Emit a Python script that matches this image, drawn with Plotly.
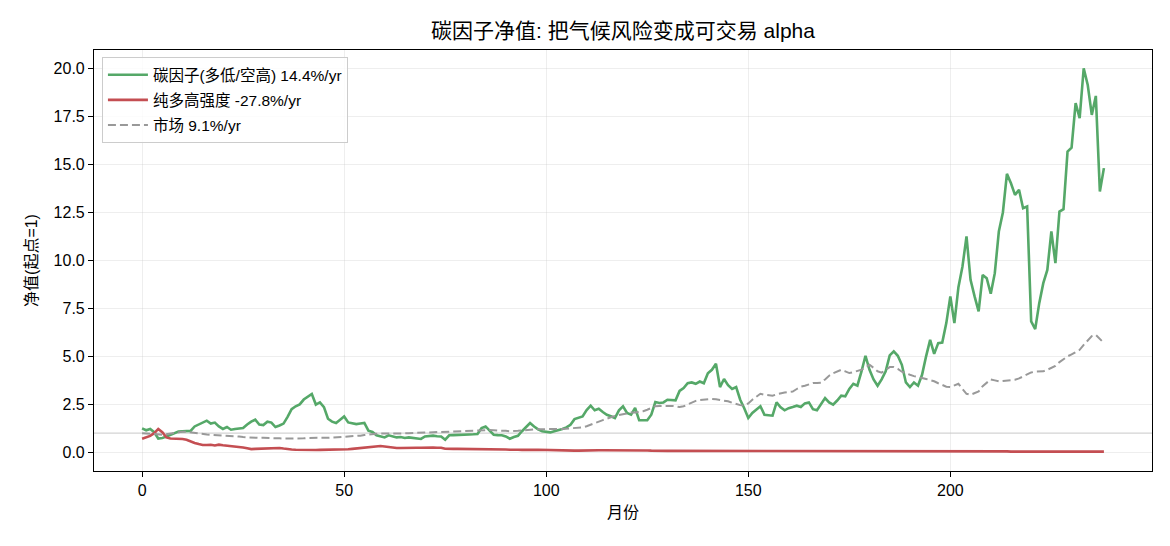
import plotly.graph_objects as go

months = list(range(239))

carbon_factor = [
    1.25, 1.15, 1.22, 1.05, 0.72, 0.75, 0.82, 0.92, 1.0, 1.08,
    1.1, 1.1, 1.12, 1.35, 1.45, 1.55, 1.65, 1.5, 1.55, 1.35,
    1.22, 1.32, 1.18, 1.22, 1.25, 1.27, 1.45, 1.6, 1.7, 1.45,
    1.42, 1.6, 1.55, 1.32, 1.4, 1.5, 1.85, 2.25, 2.4, 2.5,
    2.75, 2.9, 3.04, 2.49, 2.6, 2.36, 1.75, 1.6, 1.53, 1.7,
    1.87, 1.56, 1.5, 1.47, 1.5, 1.53, 1.13, 1.06, 0.89, 0.83,
    0.78, 0.89, 0.82, 0.78, 0.8, 0.75, 0.78, 0.76, 0.75, 0.7,
    0.83, 0.85, 0.87, 0.84, 0.83, 0.66, 0.89, 0.9, 0.9, 0.92,
    0.92, 0.93, 0.94, 0.96, 1.27, 1.35, 1.13, 0.92, 0.9, 0.89,
    0.83, 0.71, 0.8, 0.86, 1.1, 1.3, 1.53, 1.35, 1.2, 1.1,
    1.08, 1.04, 1.1, 1.15, 1.22, 1.3, 1.44, 1.73, 1.8, 1.87,
    2.2, 2.43, 2.19, 2.27, 2.1, 1.96, 1.88, 1.79, 2.19, 2.4,
    2.05, 1.96, 2.31, 1.67, 1.67, 1.67, 1.96, 2.62, 2.57, 2.6,
    2.74, 2.72, 2.71, 3.2, 3.35, 3.6, 3.64, 3.57, 3.69, 3.6,
    4.12, 4.3, 4.61, 3.4, 3.82, 3.5, 3.3, 3.4, 2.74, 2.3,
    1.79, 2.05, 2.25, 2.4, 1.96, 1.93, 1.91, 2.6, 2.35, 2.19,
    2.3, 2.36, 2.43, 2.36, 2.55, 2.6, 2.25, 2.19, 2.5, 2.83,
    2.6, 2.48, 2.7, 2.95, 2.92, 3.3, 3.57, 3.47, 4.2, 5.03,
    4.3, 3.8, 3.47, 3.8, 4.22, 5.05, 5.26, 5.03, 4.56, 3.64,
    3.4, 3.64, 3.47, 4.04, 5.0, 5.86, 5.13, 5.69, 5.72, 6.73,
    8.12, 6.73, 8.6, 9.68, 11.24, 8.98, 8.12, 7.34, 9.24, 9.07,
    8.26, 9.33, 11.5, 12.49, 14.5, 14.01, 13.41, 13.67, 12.71, 12.8,
    6.82, 6.42, 7.77, 8.81, 9.5, 11.5, 9.85, 12.54, 12.66, 15.66,
    15.87, 18.18, 17.4, 20.0, 19.13, 17.57, 18.56, 13.58, 14.8,
]

long_high_intensity = [
    0.71, 0.8, 0.86, 1.0, 1.22, 1.05, 0.78, 0.72, 0.72, 0.71,
    0.7, 0.66, 0.56, 0.49, 0.43, 0.38, 0.38, 0.4, 0.36, 0.4,
    0.37, 0.35, 0.34, 0.31, 0.28, 0.25, 0.21, 0.17, 0.18, 0.19,
    0.2, 0.21, 0.2, 0.22, 0.23, 0.2, 0.16, 0.15, 0.14, 0.13,
    0.12, 0.12, 0.12, 0.12, 0.13, 0.13, 0.14, 0.14, 0.14, 0.14,
    0.15, 0.16, 0.18, 0.2, 0.21, 0.24, 0.27, 0.3, 0.31, 0.33,
    0.31, 0.27, 0.25, 0.23, 0.23, 0.24, 0.24, 0.23, 0.24, 0.24,
    0.25, 0.24, 0.25, 0.24, 0.24, 0.19, 0.17, 0.18, 0.18, 0.18,
    0.17, 0.18, 0.17, 0.18, 0.15, 0.15, 0.17, 0.18, 0.17, 0.16,
    0.15, 0.14, 0.15, 0.14, 0.13, 0.12, 0.12, 0.13, 0.14, 0.13,
    0.13, 0.12, 0.12, 0.11, 0.1, 0.1, 0.09, 0.09, 0.09, 0.1,
    0.1, 0.1, 0.1, 0.11, 0.11, 0.11, 0.12, 0.12, 0.11, 0.11,
    0.12, 0.13, 0.13, 0.12, 0.11, 0.1, 0.09, 0.08, 0.08, 0.08,
    0.08, 0.08, 0.08, 0.08, 0.08, 0.07, 0.07, 0.07, 0.07, 0.07,
    0.07, 0.07, 0.07, 0.07, 0.07, 0.07, 0.07, 0.07, 0.07, 0.07,
    0.08, 0.08, 0.08, 0.08, 0.07, 0.07, 0.07, 0.07, 0.07, 0.07,
    0.07, 0.07, 0.07, 0.07, 0.07, 0.08, 0.08, 0.08, 0.08, 0.08,
    0.08, 0.08, 0.08, 0.07, 0.07, 0.07, 0.07, 0.06, 0.06, 0.06,
    0.06, 0.06, 0.06, 0.06, 0.06, 0.06, 0.06, 0.05, 0.05, 0.05,
    0.05, 0.05, 0.05, 0.05, 0.05, 0.05, 0.05, 0.05, 0.05, 0.05,
    0.05, 0.05, 0.05, 0.05, 0.05, 0.05, 0.05, 0.05, 0.05, 0.05,
    0.05, 0.05, 0.05, 0.05, 0.05, 0.04, 0.04, 0.04, 0.04, 0.04,
    0.04, 0.04, 0.04, 0.04, 0.04, 0.04, 0.04, 0.04, 0.04, 0.04,
    0.04, 0.04, 0.04, 0.04, 0.04, 0.04, 0.04, 0.04, 0.04,
]

market = [
    1.0, 0.98, 0.95, 0.93, 0.92, 0.92, 0.94, 0.98, 1.03, 1.07,
    1.08, 1.07, 1.04, 1.0, 0.98, 0.95, 0.93, 0.92, 0.91, 0.9,
    0.88, 0.87, 0.86, 0.84, 0.82, 0.8, 0.78, 0.76, 0.75, 0.75,
    0.76, 0.76, 0.75, 0.74, 0.73, 0.72, 0.72, 0.71, 0.7, 0.71,
    0.73, 0.75, 0.76, 0.75, 0.75, 0.76, 0.76, 0.77, 0.78, 0.79,
    0.8, 0.82, 0.84, 0.86, 0.87, 0.9, 0.93, 0.96, 0.97, 0.98,
    0.98, 0.97, 0.96, 0.97, 0.98, 0.99, 1.0, 1.0, 1.01, 1.02,
    1.03, 1.04, 1.05, 1.06, 1.07, 1.08, 1.09, 1.1, 1.11, 1.12,
    1.12, 1.13, 1.13, 1.13, 1.14, 1.15, 1.16, 1.15, 1.15, 1.14,
    1.12, 1.1, 1.1, 1.12, 1.14, 1.17, 1.18, 1.19, 1.2, 1.21,
    1.22, 1.22, 1.22, 1.22, 1.22, 1.23, 1.24, 1.25, 1.27, 1.3,
    1.36, 1.45, 1.53, 1.6, 1.68, 1.75, 1.84, 1.9, 1.95, 2.0,
    2.05, 2.07, 2.08, 2.1, 2.14, 2.22, 2.32, 2.4, 2.42, 2.43,
    2.43, 2.42, 2.4, 2.36, 2.4, 2.5, 2.62, 2.68, 2.72, 2.75,
    2.78, 2.78, 2.76, 2.73, 2.71, 2.66, 2.58, 2.5, 2.46, 2.43,
    2.55, 2.74, 2.9, 3.05, 3.0, 2.96, 2.95, 3.02, 3.08, 3.12,
    3.15, 3.17, 3.3, 3.42, 3.47, 3.55, 3.61, 3.61, 3.62, 3.8,
    3.99, 4.12, 4.22, 4.3, 4.22, 4.13, 4.18, 4.25, 4.3, 4.42,
    4.56, 4.4, 4.22, 4.15, 4.3, 4.44, 4.44, 4.35, 4.2, 4.1,
    4.04, 3.97, 3.9, 3.87, 3.82, 3.77, 3.7, 3.6, 3.5, 3.42,
    3.4, 3.5, 3.57, 3.3, 3.05, 3.0, 3.1, 3.17, 3.45, 3.65,
    3.8, 3.75, 3.7, 3.72, 3.75, 3.78, 3.78, 3.85, 3.95, 4.04,
    4.16, 4.2, 4.2, 4.22, 4.3, 4.39, 4.5, 4.7, 4.85, 5.0,
    5.1, 5.2, 5.34, 5.6, 5.85, 6.05, 6.12, 5.9, 5.69,
]

series_names = ["碳因子(多低/空高) 14.4%/yr", "纯多高强度 -27.8%/yr", "市场 9.1%/yr"]
x_ticks = [0, 50, 100, 150, 200]
y_ticks = [0, 2.5, 5, 7.5, 10, 12.5, 15, 17.5, 20]

FONT = "Liberation Sans, Arial, 'Noto Sans CJK SC', sans-serif"

fig = go.Figure()
fig.add_trace(go.Scatter(x=months, y=carbon_factor, mode="lines", name=series_names[0],
                         legendgroup="a", line=dict(color="#55a868", width=2.6)))
fig.add_trace(go.Scatter(x=months, y=long_high_intensity, mode="lines", name=series_names[1],
                         legendgroup="b", line=dict(color="#c44e52", width=2.6)))
fig.add_trace(go.Scatter(x=months, y=market, mode="lines", name=series_names[2],
                         legendgroup="c", line=dict(color="#999999", width=2.0, dash="8px,4px")))

fig.add_hline(y=1, line=dict(color="rgba(128,128,128,0.35)", width=1.4), layer="below")

axis_common = dict(
    showline=True, linecolor="black", linewidth=1.1, mirror=True,
    ticks="outside", ticklen=5, tickwidth=1.1, tickcolor="black",
    showgrid=True, gridcolor="rgba(200,200,200,0.3)", gridwidth=1,
    zeroline=False, tickfont=dict(size=16, color="black", family=FONT),
)

fig.update_layout(
    width=1170, height=546,
    margin=dict(l=94, r=18, t=50, b=75),
    paper_bgcolor="white", plot_bgcolor="white",
    font=dict(family=FONT, color="black"),
    title=dict(text="碳因子净值: 把气候风险变成可交易 alpha", x=0.5, xref="paper",
               y=1 - 31 / 546, yref="container", yanchor="middle", xanchor="center",
               font=dict(size=21, color="black", family=FONT)),
    xaxis=dict(range=[-11.9, 249.9], tickvals=x_ticks,
               title=dict(text="月份", font=dict(size=16), standoff=8), **axis_common),
    yaxis=dict(range=[-0.97, 20.95], tickvals=y_ticks, tickformat=".1f",
               title=dict(text="净值(起点=1)", font=dict(size=16), standoff=12), **axis_common),
    legend=dict(x=0.0075, y=0.983, xanchor="left", yanchor="top",
                bgcolor="rgba(255,255,255,0.8)", bordercolor="#cccccc", borderwidth=1,
                font=dict(size=15.5, color="black", family=FONT), tracegroupgap=2,
                itemwidth=40),
    showlegend=True,
)

fig.write_html("out.html")
